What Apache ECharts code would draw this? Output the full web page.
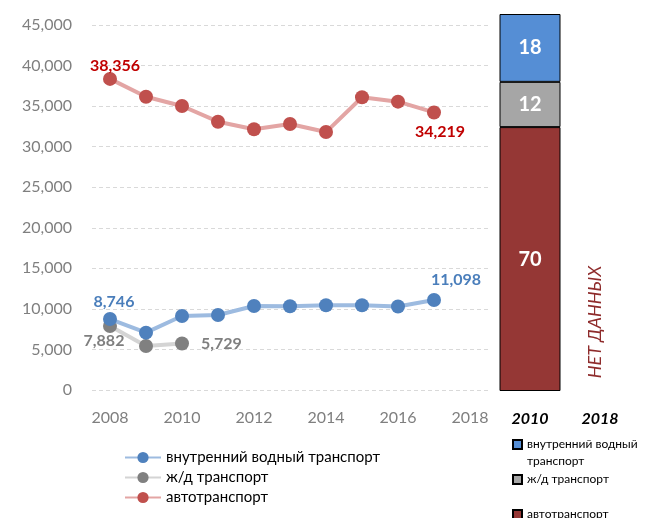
<!DOCTYPE html>
<html>
<head>
<meta charset="utf-8">
<script src="https://cdn.jsdelivr.net/npm/echarts@6/dist/echarts.min.js"></script>
<style>
  html, body { margin: 0; padding: 0; background: #fff; }
  #chart { width: 645px; height: 518px; }
</style>
</head>
<body>
<div id="chart"></div>
<script>
  // годы по оси X
  var years = ['2008', '2009', '2010', '2011', '2012', '2013', '2014', '2015', '2016', '2017', '2018'];
  var waterData = [8746, 7070, 9120, 9250, 10360, 10330, 10440, 10440, 10300, 11098, null];
  var railData = [7882, 5420, 5729, null, null, null, null, null, null, null, null];
  var roadData = [38356, 36160, 35010, 33080, 32140, 32800, 31800, 36090, 35550, 34219, null];

  // структура, %
  var shareYears = ['2010', '2018'];
  var shareWater = [18, null];
  var shareRail = [12, null];
  var shareRoad = [70, null];

  var names = ['внутренний водный транспорт', 'ж/д транспорт', 'автотранспорт'];
  var font = 'Lato, "Open Sans", sans-serif';

  function fmt(v) {
    return v.toLocaleString('en-US');
  }

  // подписи только у отдельных точек
  function withLabels(arr, labels) {
    return arr.map(function (v, i) {
      if (labels[i] && v != null) {
        return { value: v, label: Object.assign({ show: true }, labels[i]) };
      }
      return v;
    });
  }

  var lbl = function (color) {
    return {
      color: color,
      fontWeight: 'bold',
      fontSize: 16,
      fontFamily: font,
      formatter: function (p) { return fmt(p.value); }
    };
  };

  // легенда справа - по одному пункту
  function barLegend(name, top, text) {
    return {
      orient: 'vertical',
      left: 507,
      top: top,
      itemWidth: 9,
      itemHeight: 9,
      icon: 'rect',
      data: [name + '\u200b'],
      formatter: function () { return text; },
      textStyle: { color: '#000', fontSize: 12, lineHeight: 17, fontFamily: font }
    };
  }

  var barLabel = { show: true, position: 'inside', color: '#fff', fontSize: 20, fontWeight: 'bold', fontFamily: font };

  var chart = echarts.init(document.getElementById('chart'));
  var option = {
    animation: false,
    textStyle: { fontFamily: font },
    grid: [
      { left: 92, right: 157, top: 25, bottom: 128 },
      { left: 495, width: 140, top: 14, bottom: 127 }
    ],
    xAxis: [{
      type: 'category',
      gridIndex: 0,
      data: years,
      axisLine: { show: false },
      axisTick: { show: false },
      axisLabel: { interval: 1, color: '#7f7f7f', fontSize: 16, margin: 20, fontFamily: font }
    }, {
      type: 'category',
      gridIndex: 1,
      data: shareYears,
      axisLine: { show: false },
      axisTick: { show: false },
      axisLabel: { color: '#000', fontSize: 16, fontWeight: 'bold', fontStyle: 'italic', margin: 20, fontFamily: font }
    }],
    yAxis: [{
      type: 'value',
      gridIndex: 0,
      min: 0,
      max: 45000,
      interval: 5000,
      axisLine: { show: false },
      axisTick: { show: false },
      axisLabel: { color: '#7f7f7f', fontSize: 16, margin: 20, fontFamily: font, formatter: fmt },
      splitLine: { lineStyle: { color: '#d9d9d9', type: [4, 3] } }
    }, {
      type: 'value',
      gridIndex: 1,
      min: 0,
      max: 100,
      show: false
    }],
    legend: [{
      orient: 'vertical',
      left: 119,
      top: 445,
      itemWidth: 36,
      itemHeight: 14,
      itemGap: 5,
      data: names,
      textStyle: { color: '#000', fontSize: 15, fontFamily: font }
    },
      barLegend(names[0], 414, '\nвнутренний водный\nтранспорт'),
      barLegend(names[1], 466, 'ж/д транспорт'),
      barLegend(names[2], 501, 'автотранспорт')
    ],
    series: [{
      name: names[0],
      type: 'line',
      xAxisIndex: 0,
      yAxisIndex: 0,
      data: withLabels(waterData, {
        0: Object.assign(lbl('#4a7ebb'), { position: 'top', distance: 2, offset: [4, 0] }),
        9: Object.assign(lbl('#4a7ebb'), { position: 'top', distance: 2, offset: [22, -3] })
      }),
      symbol: 'circle',
      symbolSize: 14,
      itemStyle: { color: '#4f81bd' },
      lineStyle: { color: '#9dbbe0', width: 4 },
      z: 3
    }, {
      name: names[1],
      type: 'line',
      xAxisIndex: 0,
      yAxisIndex: 0,
      data: withLabels(railData, {
        0: Object.assign(lbl('#7f7f7f'), { position: 'bottom', distance: 0, offset: [-6, 0] }),
        2: Object.assign(lbl('#7f7f7f'), { position: 'right', distance: 12 })
      }),
      symbol: 'circle',
      symbolSize: 14,
      itemStyle: { color: '#808080' },
      lineStyle: { color: '#d4d4d4', width: 4 },
      z: 2
    }, {
      name: names[2],
      type: 'line',
      xAxisIndex: 0,
      yAxisIndex: 0,
      data: withLabels(roadData, {
        0: Object.assign(lbl('#c00000'), { position: 'top', distance: 0, offset: [5, 2] }),
        9: Object.assign(lbl('#c00000'), { position: 'bottom', distance: 4, offset: [6, 0] })
      }),
      symbol: 'circle',
      symbolSize: 14,
      itemStyle: { color: '#c0504d' },
      lineStyle: { color: '#e3a5a4', width: 4 },
      z: 3
    }, {
      name: names[2] + '\u200b',
      type: 'bar',
      stack: 'share',
      xAxisIndex: 1,
      yAxisIndex: 1,
      barWidth: 61,
      data: shareRoad,
      itemStyle: { color: '#953735', borderColor: '#000', borderWidth: 1 },
      label: barLabel
    }, {
      name: names[1] + '\u200b',
      type: 'bar',
      stack: 'share',
      xAxisIndex: 1,
      yAxisIndex: 1,
      barWidth: 61,
      data: shareRail,
      itemStyle: { color: '#a6a6a6', borderColor: '#000', borderWidth: 1 },
      label: barLabel
    }, {
      name: names[0] + '\u200b',
      type: 'bar',
      stack: 'share',
      xAxisIndex: 1,
      yAxisIndex: 1,
      barWidth: 61,
      data: shareWater,
      itemStyle: { color: '#558ed5', borderColor: '#000', borderWidth: 1 },
      label: barLabel
    }],
    graphic: [{
      type: 'text',
      x: 595,
      y: 322,
      rotation: Math.PI / 2,
      style: {
        text: 'НЕТ ДАННЫХ',
        fill: '#8e2b2b',
        font: 'italic 18px ' + font,
        align: 'center',
        verticalAlign: 'middle'
      }
    }]
  };
  chart.setOption(option);
</script>
</body>
</html>
